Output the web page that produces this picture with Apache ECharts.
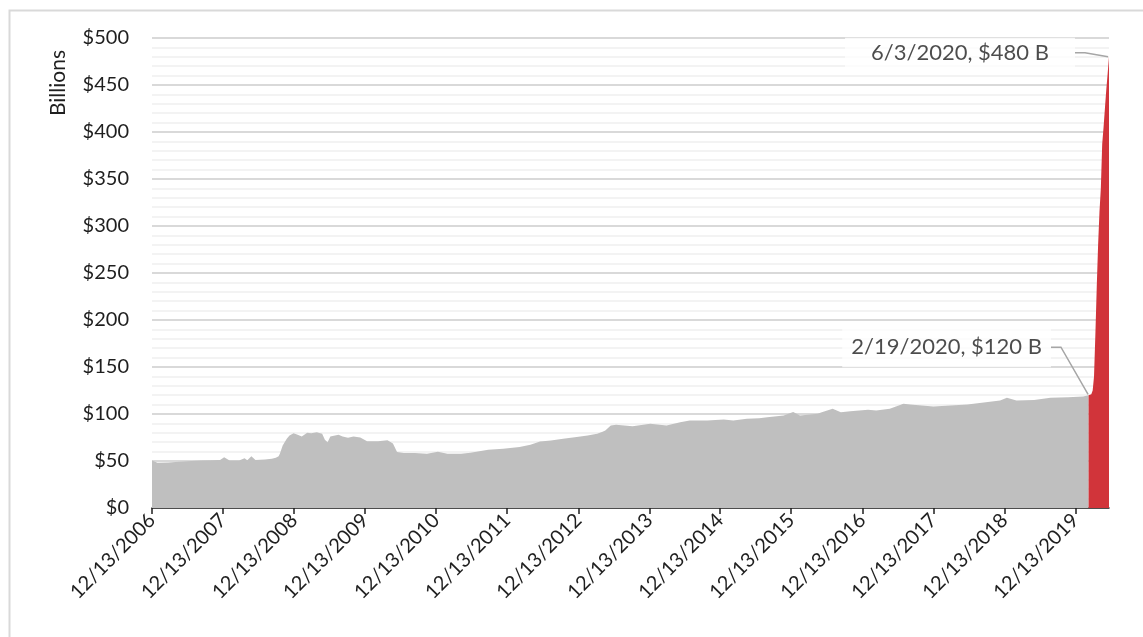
<!DOCTYPE html>
<html>
<head>
<meta charset="utf-8">
<script src="https://cdn.jsdelivr.net/npm/echarts@6/dist/echarts.min.js"></script>
<style>
  html, body { margin: 0; padding: 0; background: #fff; }
  #chart { width: 1143px; height: 637px; }
</style>
</head>
<body>
<div id="chart"></div>
<script>
// weekly balance before the jump (gray)
const grayDates = [
  '2006-12-13', '2007-01-10', '2007-03-07', '2007-05-02', '2007-07-04', '2007-08-22', '2007-10-17',
  '2007-11-28', '2007-12-19', '2008-01-16', '2008-03-05', '2008-04-02', '2008-04-16', '2008-05-07',
  '2008-05-28', '2008-07-16', '2008-08-20', '2008-09-10', '2008-09-24', '2008-10-01', '2008-10-15',
  '2008-11-05', '2008-11-19', '2008-12-10', '2008-12-31', '2009-01-21', '2009-02-18', '2009-03-11',
  '2009-04-08', '2009-05-06', '2009-05-20', '2009-06-03', '2009-06-17', '2009-07-29', '2009-08-19',
  '2009-09-16', '2009-10-14', '2009-11-18', '2009-12-23', '2010-02-17', '2010-04-07', '2010-05-05',
  '2010-05-26', '2010-06-30', '2010-08-25', '2010-10-27', '2010-12-22', '2011-02-09', '2011-04-20',
  '2011-06-08', '2011-09-07', '2011-11-23', '2012-02-15', '2012-04-11', '2012-05-30', '2012-07-25',
  '2012-09-26', '2012-12-05', '2013-01-30', '2013-03-20', '2013-04-17', '2013-05-01', '2013-05-29',
  '2013-06-26', '2013-09-18', '2013-12-18', '2014-03-12', '2014-05-21', '2014-07-09', '2014-10-08',
  '2014-12-31', '2015-02-18', '2015-04-29', '2015-07-01', '2015-08-12', '2015-11-04', '2015-12-23',
  '2016-01-27', '2016-04-27', '2016-05-18', '2016-07-13', '2016-08-24', '2016-10-12', '2017-01-11',
  '2017-02-22', '2017-05-03', '2017-07-12', '2017-08-16', '2017-12-13', '2018-06-06', '2018-11-21',
  '2018-12-26', '2019-02-13', '2019-05-15', '2019-08-07', '2019-11-06', '2020-01-22', '2020-02-19'
];
const grayValues = [
  50.6, 48.2, 48.5, 49.2, 50, 50.5, 50.8,
  51, 54, 50.5, 50.5, 53, 50.8, 55,
  51, 51.5, 52.5, 53.5, 55, 58, 66.5,
  73.7, 77, 79.6, 78, 76, 80, 79.5,
  80.7, 79, 72.6, 70, 76, 78, 76,
  74.7, 76, 75, 71, 71, 72, 68.7,
  59.5, 58.4, 58.4, 57.7, 59.8, 57.7, 57.7,
  58.8, 62, 63, 64.8, 67.3, 70.8, 71.9,
  73.6, 75.4, 77.2, 79, 81, 82.5, 87.8,
  88.5, 87, 89.6, 87.8, 91.3, 93, 93,
  94.2, 93, 94.9, 95.5, 96.6, 98.4, 102,
  98.4, 100.2, 101.9, 105.5, 101.9, 103, 104.4,
  103.7, 105.5, 110.8, 110, 108, 110, 114.3,
  117.2, 114.3, 115, 117.2, 117.8, 118.5, 120
];

// the jump (red)
const redDates = [
  '2020-02-19', '2020-02-26', '2020-03-04', '2020-03-11', '2020-03-18', '2020-03-25', '2020-04-01',
  '2020-04-08', '2020-04-15', '2020-04-22', '2020-04-29', '2020-05-06', '2020-05-13', '2020-05-20',
  '2020-05-27', '2020-06-03'
];
const redValues = [120, 119, 121, 125, 140, 185, 235, 280, 315, 340, 387, 405, 425, 445, 462, 480];

const tickDates = [
  '2006-12-13', '2007-12-13', '2008-12-13', '2009-12-13', '2010-12-13', '2011-12-13', '2012-12-13',
  '2013-12-13', '2014-12-13', '2015-12-13', '2016-12-13', '2017-12-13', '2018-12-13', '2019-12-13'
];

const noteDates = ['2020-06-03', '2020-02-19'];
const noteValues = [480, 120];
const noteTexts = ['6/3/2020, $480 B', '2/19/2020, $120 B'];

const toTime = s => echarts.number.parseDate(s).getTime();
const zip = (d, v) => d.map((x, i) => [toTime(x), v[i]]);

const FONT = 'Lato';
const TEXT = '#1f1f1f';

let myChart = echarts.init(document.getElementById('chart'));

const notePos = [
  { dx: -149, dy: -4, padding: [4, 26] },
  { dx: -142, dy: -48, padding: [9, 9] }
];

myChart.setOption({
  animation: false,
  textStyle: { fontFamily: FONT },
  graphic: [
    {
      type: 'rect', left: 7, top: 8, silent: true,
      shape: { width: 1200, height: 700 },
      style: { fill: 'none', stroke: '#d9d9d9', lineWidth: 2 }
    },
    {
      type: 'text', x: 58, y: 83, rotation: Math.PI / 2, silent: true,
      style: {
        text: 'Billions', fontSize: 21, fontFamily: FONT, fill: TEXT,
        textAlign: 'center', textVerticalAlign: 'middle'
      }
    }
  ],
  grid: { left: 152, right: 34, top: 38, bottom: 129 },
  xAxis: {
    type: 'value',
    min: toTime('2006-12-13'),
    max: toTime('2020-06-03'),
    splitLine: { show: false },
    axisLine: { lineStyle: { color: '#1f1f1f', width: 1.5 } },
    axisTick: {
      show: true, inside: false, length: 6, customValues: tickDates.map(toTime),
      lineStyle: { color: '#1f1f1f', width: 1.5 }
    },
    axisLabel: {
      customValues: tickDates.map(toTime),
      rotate: 45, margin: 9, fontSize: 20, color: TEXT, fontFamily: FONT,
      formatter: v => echarts.time.format(v, '{M}/{d}/{yyyy}', false)
    }
  },
  yAxis: {
    type: 'value',
    min: 0, max: 500, interval: 50,
    axisLine: { show: false },
    axisTick: { show: false },
    axisLabel: { fontSize: 20, color: TEXT, margin: 23, fontFamily: FONT, formatter: v => '$' + v },
    splitLine: { lineStyle: { color: '#d9d9d9', width: 2 } },
    minorTick: { show: false, splitNumber: 5 },
    minorSplitLine: { show: true, lineStyle: { color: '#efefef', width: 1.5 } }
  },
  series: [
    {
      type: 'line',
      data: zip(grayDates, grayValues),
      symbol: 'none',
      lineStyle: { width: 0 },
      itemStyle: { color: '#bfbfbf' },
      areaStyle: { color: '#bfbfbf', opacity: 1 },
      z: 2
    },
    {
      type: 'line',
      data: zip(redDates, redValues),
      symbol: 'none',
      lineStyle: { width: 0 },
      itemStyle: { color: '#d1343a' },
      areaStyle: { color: '#d1343a', opacity: 1 },
      z: 3
    },
    {
      type: 'scatter',
      z: 5,
      symbolSize: 2,
      itemStyle: { color: 'rgba(0,0,0,0)' },
      data: noteDates.map((d, i) => ({
        value: [toTime(d), noteValues[i]],
        name: noteTexts[i],
        label: { padding: notePos[i].padding }
      })),
      label: {
        show: true,
        position: 'inside',
        formatter: p => p.name,
        fontSize: 22,
        fontFamily: FONT,
        color: TEXT,
        backgroundColor: '#fff'
      },
      labelLine: {
        show: true,
        length2: 10,
        lineStyle: { color: '#a6a6a6', width: 1.5 }
      },
      labelLayout: p => ({ dx: notePos[p.dataIndex].dx, dy: notePos[p.dataIndex].dy })
    }
  ]
});
</script>
</body>
</html>
